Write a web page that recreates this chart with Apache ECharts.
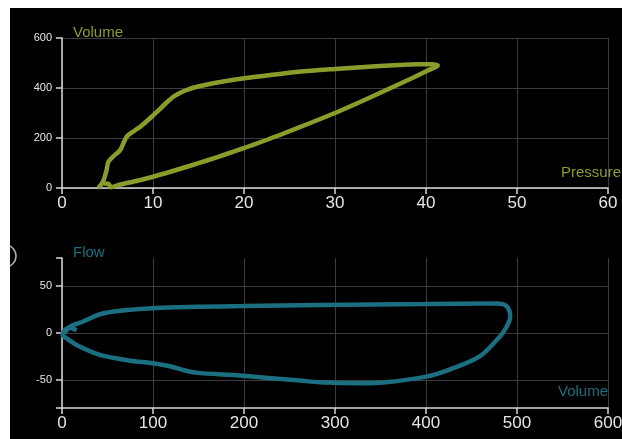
<!DOCTYPE html>
<html>
<head>
<meta charset="utf-8">
<script src="https://cdn.jsdelivr.net/npm/echarts@6/dist/echarts.min.js"></script>
<style>
  html, body { margin: 0; padding: 0; background: #fff; }
  #chart {
    position: absolute;
    left: 10px;
    top: 8px;
    width: 612px;
    height: 431px;
    background: #000;
  }
</style>
</head>
<body>
<div id="chart"></div>
<script>
// pressure / volume loop (lower branch, tip, then upper branch back down)
var pvPressure = [4.6, 5.1, 5.4, 6.2, 8.4, 10, 12, 14, 16, 18, 20, 22, 24, 27, 30, 33, 36, 38.5, 40.2, 41.1, 41.3,
  40.5, 39, 37, 34.9, 30, 26, 23.9, 20, 16.6, 14.5, 13.7, 12.95, 12.2, 11.5, 10, 8.6, 8, 7.1, 6.4, 5.8, 5.1, 4.9, 4.5, 4.0]
var pvVolume = [18, 17, 3, 12, 30, 45, 66, 88, 111, 135, 160, 186, 213, 256, 300, 348, 398, 440, 470, 484, 490,
  495, 495, 492, 488, 476, 465, 456, 439, 419, 402, 392, 380, 364, 342, 290, 245, 230, 205, 152, 132, 105, 72, 25, 0]

// flow / volume loop (inspiration on top, expiration below)
var fvVolume = [3, 8.8, 23.4, 41.7, 63.7, 100, 150, 199, 283.5, 400, 477, 487, 492, 492.5, 488.6, 481, 459, 426,
  400, 353, 327.5, 283.5, 261.5, 199, 184.6, 151.6, 135, 118.7, 100, 74.7, 41.8, 16, 5, 0.7, 2, 8, 16]
var fvFlow = [0, 6.7, 12.3, 20, 23.7, 26.5, 28, 28.7, 29.8, 30.9, 31.6, 29.8, 22.7, 17, 6.7, -3.9, -25, -39,
  -46.5, -52.8, -53.5, -52.5, -50.7, -45.7, -44.6, -42.8, -40, -35.5, -32.2, -29.5, -23.4, -12.8, -5.6, -2, 2, 6, 3]

var flowLabels = [-50, 0, 50]
var flowTickMarks = [-80, -50, 0, 50, 80]

var olive = '#8c9c2b'
var teal = '#1b6f80'
var font = '"Liberation Sans", Arial, sans-serif'

function pairs(xs, ys) {
  return xs.map(function (x, i) { return [x, ys[i]] })
}

function xAxisBase(gridIndex, max, interval, name, color, nameGap, padBottom) {
  return {
    type: 'value',
    gridIndex: gridIndex,
    min: 0,
    max: max,
    interval: interval,
    name: name,
    nameLocation: 'end',
    nameGap: nameGap,
    nameMoveOverlap: false,
    nameTextStyle: {
      color: color, fontSize: 15, fontFamily: font,
      align: 'right', verticalAlign: 'bottom', padding: [0, 0, padBottom, 0]
    },
    axisLine: { show: true, onZero: false, lineStyle: { color: '#d8d8d8', width: 1.5 } },
    axisTick: { show: true, length: 6, lineStyle: { color: '#d8d8d8', width: 1.5 } },
    axisLabel: { color: '#e6e6e6', fontSize: 17, fontFamily: font, margin: 7, hideOverlap: false },
    splitLine: { show: true, lineStyle: { color: '#3c3c3c', width: 1 } }
  }
}

var chart = echarts.init(document.getElementById('chart'), null, { renderer: 'canvas' })

chart.setOption({
  backgroundColor: '#000',
  animation: false,
  grid: [
    { left: 52, right: 14, top: 30, height: 150, outerBoundsMode: 'none' },
    { left: 52, right: 14, top: 250, height: 150, outerBoundsMode: 'none' }
  ],
  xAxis: [
    xAxisBase(0, 60, 10, 'Pressure', olive, 13, 8),
    xAxisBase(1, 600, 100, 'Volume', teal, 0, 9)
  ],
  yAxis: [
    {
      type: 'value',
      gridIndex: 0,
      min: 0,
      max: 600,
      interval: 200,
      name: 'Volume',
      nameLocation: 'end',
      nameGap: -2,
      nameMoveOverlap: false,
      nameTextStyle: { color: olive, fontSize: 15, fontFamily: font, align: 'left', padding: [0, 0, 0, 11] },
      axisLine: { show: true, onZero: false, lineStyle: { color: '#d8d8d8', width: 1.5 } },
      axisTick: { show: true, length: 6, lineStyle: { color: '#d8d8d8', width: 1.5 } },
      axisLabel: { color: '#e6e6e6', fontSize: 11, fontFamily: font, margin: 10 },
      splitLine: { show: true, lineStyle: { color: '#3c3c3c', width: 1 } }
    },
    {
      type: 'value',
      gridIndex: 1,
      min: -80,
      max: 80,
      name: 'Flow',
      nameLocation: 'end',
      nameGap: -2,
      nameMoveOverlap: false,
      nameTextStyle: { color: teal, fontSize: 15, fontFamily: font, align: 'left', padding: [0, 0, 0, 11] },
      axisLine: { show: true, onZero: false, lineStyle: { color: '#d8d8d8', width: 1.5 } },
      axisTick: { show: true, length: 6, customValues: flowTickMarks, lineStyle: { color: '#d8d8d8', width: 1.5 } },
      axisLabel: { color: '#e6e6e6', fontSize: 11, fontFamily: font, margin: 10, customValues: flowLabels },
      splitLine: { show: false }
    },
    // grid lines only, at the labelled flow ticks
    {
      type: 'value',
      gridIndex: 1,
      position: 'left',
      min: -80,
      max: 80,
      axisLine: { show: false, onZero: false },
      axisTick: { show: false, customValues: flowLabels },
      axisLabel: { show: false },
      splitLine: { show: true, lineStyle: { color: '#3c3c3c', width: 1 } }
    }
  ],
  graphic: [
    {
      type: 'circle',
      shape: { cx: -5, cy: 248, r: 11 },
      style: { fill: 'none', stroke: '#b0b0b0', lineWidth: 1.5 }
    }
  ],
  series: [
    {
      type: 'line',
      xAxisIndex: 0,
      yAxisIndex: 0,
      data: pairs(pvPressure, pvVolume),
      smooth: 0.3,
      showSymbol: false,
      lineStyle: { color: olive, width: 4.5 },
      z: 5
    },
    {
      type: 'line',
      xAxisIndex: 1,
      yAxisIndex: 1,
      data: pairs(fvVolume, fvFlow),
      smooth: 0.3,
      showSymbol: false,
      lineStyle: { color: teal, width: 4.5 },
      z: 5
    }
  ]
})
</script>
</body>
</html>
